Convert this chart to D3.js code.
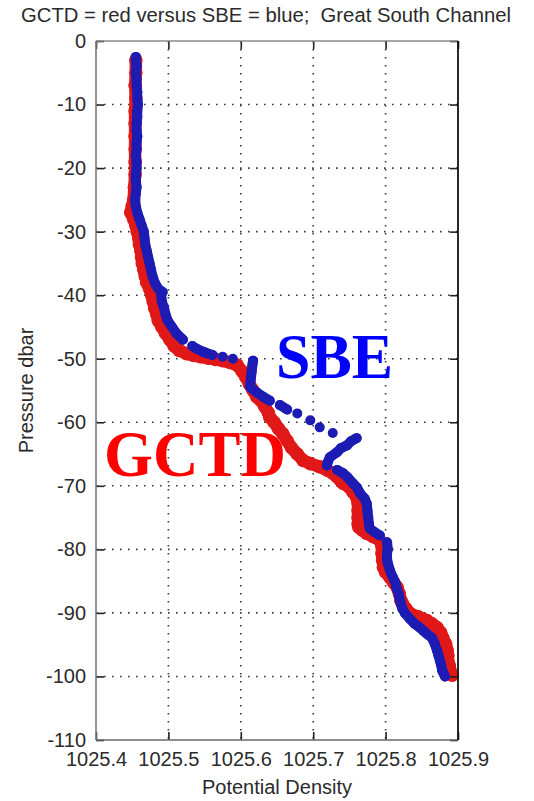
<!DOCTYPE html>
<html>
<head>
<meta charset="utf-8">
<script src="https://cdn.jsdelivr.net/npm/d3@7"></script>
<style>
  body { margin: 0; background: #fff; }
  .lbl { font-family: "Liberation Sans", Arial, sans-serif; fill: #2b2b2b; }
  .big { font-family: "Liberation Serif", "Times New Roman", serif; font-weight: bold; }
</style>
</head>
<body>
<script>
"use strict";

var width = 534, height = 801;

// axis ticks
var xTicks = [1025.4, 1025.5, 1025.6, 1025.7, 1025.8, 1025.9];
var yTicks = [0, -10, -20, -30, -40, -50, -60, -70, -80, -90, -100, -110];

// GCTD (red) profile
var gctdPressure = [-3, -5, -7, -9, -11, -13, -15, -17, -19, -21, -23, -25, -26,
  -27, -28, -29, -30, -31, -32, -33, -34, -35, -36, -37, -38, -39, -40, -41, -42,
  -43, -44, -45, -46, -47, -48, -48.7, -49.2, -49.5, -49.7, -49.9, -50.1, -50.3,
  -50.6, -51, -52, -52.9, -54, -55, -56, -56.5, -57.5, -58.5, -59.2, -60, -61,
  -61.8, -62.9, -64, -65, -66, -66.5, -67, -67.5, -68, -68.6, -69.2, -69.6, -70.2,
  -71, -71.8, -72.8, -73.9, -75, -76, -76.5, -77, -77.5, -78, -78.6, -79.5, -80.6,
  -81.7, -82.8, -83.6, -84.4, -85.2, -86, -87, -88, -88.5, -89.3, -90.1, -90.6,
  -91.2, -91.7, -92.3, -93.1, -93.9, -94.9, -95.9, -96.7, -97.5, -98.3, -99, -99.8];
var gctdDensity = [1025.455, 1025.455, 1025.454, 1025.455, 1025.454, 1025.454, 1025.454,
  1025.454, 1025.454, 1025.454, 1025.453, 1025.452, 1025.450,
  1025.448, 1025.452, 1025.455, 1025.457, 1025.459, 1025.460, 1025.462, 1025.463,
  1025.464, 1025.466, 1025.468, 1025.470, 1025.474, 1025.477, 1025.479, 1025.481,
  1025.484, 1025.486, 1025.491, 1025.496, 1025.502, 1025.508, 1025.515, 1025.525,
  1025.535, 1025.545, 1025.555, 1025.565, 1025.575, 1025.585, 1025.595, 1025.602,
  1025.607, 1025.612, 1025.617, 1025.622, 1025.627, 1025.633, 1025.638, 1025.640,
  1025.646, 1025.652, 1025.658, 1025.664, 1025.670, 1025.678, 1025.686, 1025.696,
  1025.709, 1025.719, 1025.727, 1025.733, 1025.738, 1025.741, 1025.750, 1025.755,
  1025.760, 1025.762, 1025.762, 1025.762, 1025.762, 1025.763, 1025.768, 1025.774,
  1025.783, 1025.792, 1025.795, 1025.795, 1025.796, 1025.797, 1025.800, 1025.806,
  1025.811, 1025.816, 1025.819, 1025.821, 1025.823, 1025.828, 1025.834, 1025.845,
  1025.857, 1025.864, 1025.871, 1025.876, 1025.879, 1025.883, 1025.885, 1025.886,
  1025.886, 1025.888, 1025.889, 1025.892];

// SBE (blue) profile
var sbePressure = [-2.5, -3, -4, -5, -6, -7, -8, -9, -10, -11, -12, -13, -14, -15, -16,
  -17, -18, -19, -20, -21, -22, -23, -24, -25, -26, -27, -28, -29, -30, -31, -32, -33,
  -34, -35, -36, -37, -38, -39, -39.5, -40, -41, -42, -43, -44, -45, -46, -47, -48,
  -48.5, -49, -49.4, -49.7, -50,
  -50.3, -51, -52, -53, -54, -54.5,
  -55.3, -56, -56.6, -57.3, -58, -58.6, -59.7, -60.8, -61.7,
  -62.5, -63, -63.6, -64.1, -64.7, -65.5, -66.3, -66.8, -67.5, -68, -68.6, -69.6,
  -70.2, -71.2, -72, -72.8, -74, -75, -76, -76.7, -77.3, -77.8, -78.9, -80, -80.6,
  -81.5, -82.2, -83.3, -84.4, -85.4, -86, -87, -88, -88.5, -89.3, -90.1, -91, -91.7,
  -92.3, -92.8, -93.4, -93.9, -94.9, -95.9, -96.7, -97.5, -98.3, -99, -99.5, -100];
var sbeDensity = [1025.455, 1025.455, 1025.456, 1025.455, 1025.456, 1025.456, 1025.457,
  1025.457, 1025.458, 1025.457, 1025.457, 1025.456, 1025.456, 1025.457, 1025.456,
  1025.456, 1025.455, 1025.456, 1025.456, 1025.455, 1025.455, 1025.456, 1025.455,
  1025.454, 1025.455, 1025.457, 1025.460, 1025.463, 1025.466, 1025.467, 1025.468,
  1025.470, 1025.472, 1025.474, 1025.476, 1025.478, 1025.481, 1025.486, 1025.492,
  1025.490, 1025.491, 1025.494, 1025.496, 1025.499, 1025.505, 1025.511, 1025.520,
  1025.533, 1025.540, 1025.550, 1025.561, 1025.575, 1025.589,
  1025.617, 1025.616, 1025.615, 1025.614, 1025.613, 1025.613,
  1025.622, 1025.631, 1025.640, 1025.654, 1025.664, 1025.678, 1025.696, 1025.709, 1025.727,
  1025.760, 1025.752, 1025.747, 1025.738, 1025.733, 1025.723, 1025.720, 1025.719,
  1025.733, 1025.741, 1025.747, 1025.755, 1025.760, 1025.765, 1025.771, 1025.774,
  1025.775, 1025.776, 1025.777, 1025.778, 1025.785, 1025.792, 1025.802, 1025.803,
  1025.802, 1025.802, 1025.803, 1025.806, 1025.810, 1025.814, 1025.815, 1025.818,
  1025.820, 1025.821, 1025.823, 1025.827, 1025.834, 1025.840, 1025.847, 1025.852,
  1025.858, 1025.864, 1025.868, 1025.871, 1025.873, 1025.875, 1025.877, 1025.878,
  1025.880, 1025.882];

var x = d3.scaleLinear().domain([1025.4, 1025.9]).range([96, 458]);
var y = d3.scaleLinear().domain([0, -110]).range([41, 740]);

var svg = d3.select("body").append("svg")
  .attr("width", width)
  .attr("height", height)
  .style("display", "block");

svg.append("rect").attr("width", width).attr("height", height).attr("fill", "#fff");

// grid
svg.append("g").selectAll("line").data(xTicks.slice(1, -1)).enter()
  .append("line")
  .attr("x1", function(d) { return x(d); })
  .attr("x2", function(d) { return x(d); })
  .attr("y1", y(0)).attr("y2", y(-110))
  .attr("stroke", "#3a3a3a").attr("stroke-width", 1.6)
  .attr("stroke-dasharray", "1.6,6.4");

svg.append("g").selectAll("line").data(yTicks.slice(1, -1)).enter()
  .append("line")
  .attr("y1", function(d) { return y(d); })
  .attr("y2", function(d) { return y(d); })
  .attr("x1", x(1025.4)).attr("x2", x(1025.9))
  .attr("stroke", "#3a3a3a").attr("stroke-width", 1.6)
  .attr("stroke-dasharray", "1.6,6.4");

var gctd = gctdPressure.map(function(p, i) { return { p: p, d: gctdDensity[i] }; });
var sbe = sbePressure.map(function(p, i) { return { p: p, d: sbeDensity[i] }; });

// split a profile where neighbouring samples are far apart (sparse markers stay separate)
function runs(pts, gap) {
  var out = [], cur = [pts[0]];
  for (var i = 1; i < pts.length; i++) {
    var dx = x(pts[i].d) - x(pts[i - 1].d), dy = y(pts[i].p) - y(pts[i - 1].p);
    if (Math.sqrt(dx * dx + dy * dy) <= gap) cur.push(pts[i]);
    else { out.push(cur); cur = [pts[i]]; }
  }
  out.push(cur);
  return out.filter(function(r) { return r.length > 1; });
}

var line = d3.line()
  .x(function(d) { return x(d.d); })
  .y(function(d) { return y(d.p); });

function drawProfile(pts, color, r, band, gap) {
  var g = svg.append("g");
  g.selectAll("path").data(runs(pts, gap)).enter()
    .append("path")
    .attr("d", line)
    .attr("fill", "none")
    .attr("stroke", color)
    .attr("stroke-width", band)
    .attr("stroke-linejoin", "round")
    .attr("stroke-linecap", "round");
  g.selectAll("circle").data(pts).enter()
    .append("circle")
    .attr("cx", function(d) { return x(d.d); })
    .attr("cy", function(d) { return y(d.p); })
    .attr("r", r)
    .attr("fill", color);
}

// red first, blue plotted on top
drawProfile(gctd, "#e01818", 6.8, 12.5, 14);
drawProfile(sbe, "#1c1cb4", 5, 10, 9.5);

// axes, ticks pointing inward
var axBottom = svg.append("g")
  .attr("transform", "translate(0," + y(-110) + ")")
  .call(d3.axisBottom(x).tickValues(xTicks).tickSize(-8).tickPadding(12)
    .tickFormat(d3.format(".1f")));
var axTop = svg.append("g")
  .attr("transform", "translate(0," + y(0) + ")")
  .call(d3.axisTop(x).tickValues(xTicks).tickSize(-8).tickFormat(""));
var axLeft = svg.append("g")
  .attr("transform", "translate(" + x(1025.4) + ",0)")
  .call(d3.axisLeft(y).tickValues(yTicks).tickSize(-8).tickPadding(10)
    .tickFormat(function(d) { return String(d); }));
var axRight = svg.append("g")
  .attr("transform", "translate(" + x(1025.9) + ",0)")
  .call(d3.axisRight(y).tickValues(yTicks).tickSize(-8).tickFormat(""));

[axBottom, axTop, axLeft, axRight].forEach(function(g) {
  g.attr("font-size", 20).attr("font-family", null);
  g.select(".domain").remove();
  g.selectAll(".tick line").attr("stroke", "#222").attr("stroke-width", 1.6);
  g.selectAll("text").attr("class", "lbl").attr("fill", null);
});

// frame
svg.append("line").attr("x1", x(1025.4)).attr("x2", x(1025.9))
  .attr("y1", y(0)).attr("y2", y(0)).attr("stroke", "#8a8a8a").attr("stroke-width", 1.4);
svg.append("line").attr("x1", x(1025.4)).attr("x2", x(1025.9))
  .attr("y1", y(-110)).attr("y2", y(-110)).attr("stroke", "#6a6a6a").attr("stroke-width", 1.6);
svg.append("line").attr("x1", x(1025.4)).attr("x2", x(1025.4))
  .attr("y1", y(0)).attr("y2", y(-110)).attr("stroke", "#7a7a7a").attr("stroke-width", 1.6);
svg.append("line").attr("x1", x(1025.9)).attr("x2", x(1025.9))
  .attr("y1", y(0)).attr("y2", y(-110)).attr("stroke", "#111").attr("stroke-width", 1.8);

// titles
svg.append("text")
  .attr("class", "lbl")
  .attr("x", 266).attr("y", 22)
  .attr("text-anchor", "middle")
  .attr("font-size", 20)
  .attr("textLength", 490)
  .attr("lengthAdjust", "spacingAndGlyphs")
  .style("white-space", "pre")
  .text("GCTD = red versus SBE = blue;  Great South Channel");

svg.append("text")
  .attr("class", "lbl")
  .attr("x", (x(1025.4) + x(1025.9)) / 2).attr("y", 794)
  .attr("text-anchor", "middle")
  .attr("font-size", 20)
  .text("Potential Density");

svg.append("text")
  .attr("class", "lbl")
  .attr("transform", "translate(33," + (y(0) + y(-110)) / 2 + ") rotate(-90)")
  .attr("text-anchor", "middle")
  .attr("font-size", 20)
  .text("Pressure dbar");

// big labels
svg.append("text")
  .attr("class", "big")
  .attr("x", 276).attr("y", 378)
  .attr("font-size", 64)
  .attr("textLength", 117)
  .attr("lengthAdjust", "spacingAndGlyphs")
  .style("fill", "#0000ff")
  .text("SBE");

svg.append("text")
  .attr("class", "big")
  .attr("x", 104).attr("y", 476)
  .attr("font-size", 66)
  .attr("textLength", 182)
  .attr("lengthAdjust", "spacingAndGlyphs")
  .style("fill", "#ff0000")
  .text("GCTD");
</script>
</body>
</html>
